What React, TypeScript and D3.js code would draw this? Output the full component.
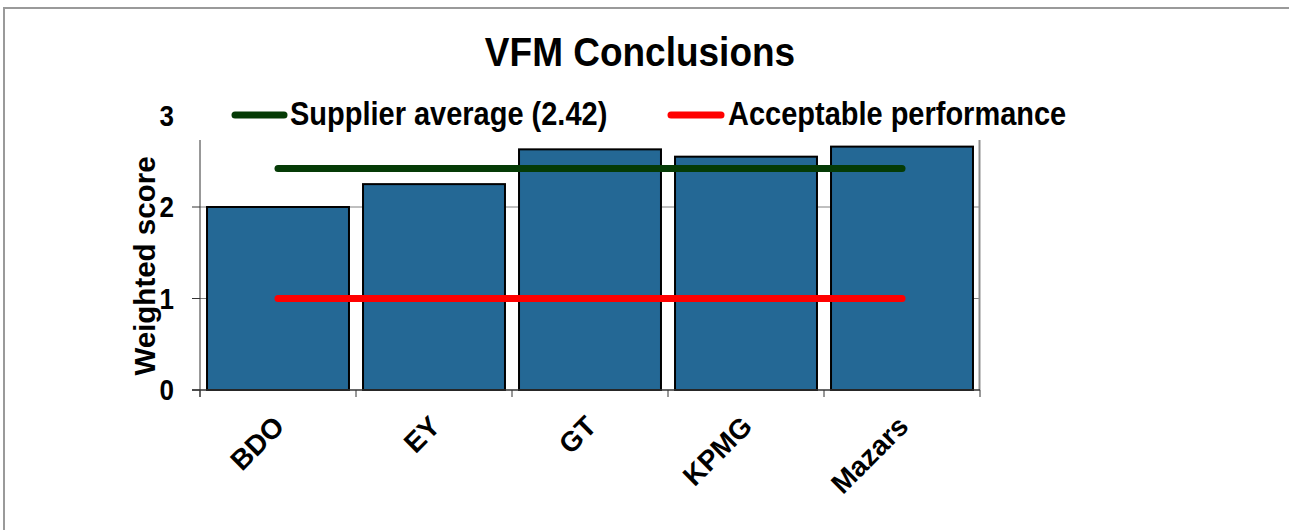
import React from "react";
import * as d3 from "d3";

const categories = ["BDO", "EY", "GT", "KPMG", "Mazars"];
const scores = [2.0, 2.25, 2.63, 2.55, 2.66];
const supplierAverage = [2.42, 2.42, 2.42, 2.42, 2.42];
const acceptable = [1, 1, 1, 1, 1];
const yTicks = [0, 1, 2, 3];
const legendLabels = ["Supplier average (2.42)", "Acceptable performance"];
const title = "VFM Conclusions";
const yTitle = "Weighted score";

const W = 1289;
const H = 530;
const FONT = "'Liberation Sans', Arial, Helvetica, sans-serif";
const BAR = "#246895";
const GREEN = "#053b06";
const RED = "#ff0000";
const SY = 1.12;

export default function App() {
  const x = d3.scaleBand<string>().domain(categories).range([200, 980]).paddingInner(0.09).paddingOuter(0.045);
  const y = d3.scaleLinear().domain([0, 3]).range([390, 115.5]);
  const step = x.step();
  const cx = (c: string) => (x(c) as number) + x.bandwidth() / 2;
  const line = d3
    .line<number>()
    .x((_, i) => cx(categories[i]))
    .y((d) => y(d));
  const boundaries = d3.range(categories.length + 1).map((i) => 200 + i * step);
  const plotTop = 140;

  return (
    <svg width={W} height={H} style={{ position: "absolute", left: 0, top: 0, background: "#fff" }} fontFamily={FONT}>
      <rect x={0} y={0} width={W} height={H} fill="#fff" />
      {/* outer frame */}
      <rect x={4} y={8} width={W + 20} height={H + 20} fill="none" stroke="#9a9a9a" strokeWidth={2} />

      {/* title */}
      <text transform={`translate(640,66) scale(1,${SY})`} textAnchor="middle" fontSize={37} fontWeight="bold" fill="#000">
        {title}
      </text>

      {/* gridlines */}
      {yTicks
        .filter((t) => t > 0 && y(t) > plotTop)
        .map((t) => (
          <line key={"g" + t} x1={200} x2={980} y1={y(t)} y2={y(t)} stroke="#808080" strokeWidth={1} />
        ))}

      {/* right border of plot */}
      <line x1={979.5} x2={979.5} y1={plotTop} y2={390} stroke="#8c8c8c" strokeWidth={2} />

      {/* bars */}
      {categories.map((c, i) => (
        <rect
          key={c}
          x={x(c) as number}
          y={y(scores[i])}
          width={x.bandwidth()}
          height={y(0) - y(scores[i])}
          fill={BAR}
          stroke="#000"
          strokeWidth={2}
        />
      ))}

      {/* axes */}
      <line x1={200} x2={200} y1={plotTop} y2={397} stroke="#333" strokeWidth={1} />
      <line x1={192} x2={980} y1={390} y2={390} stroke="#333" strokeWidth={1.5} />
      {yTicks
        .filter((t) => y(t) > plotTop)
        .map((t) => (
          <line key={"yt" + t} x1={192} x2={200} y1={y(t)} y2={y(t)} stroke="#333" strokeWidth={1} />
        ))}
      {boundaries.map((b, i) => (
        <line key={"xt" + i} x1={b} x2={b} y1={390} y2={397} stroke="#333" strokeWidth={1} />
      ))}

      {/* y tick labels */}
      {yTicks.map((t) => (
        <text
          key={"yl" + t}
          transform={`translate(174,${y(t) + 10}) scale(1,${SY})`}
          textAnchor="end"
          fontSize={26}
          fontWeight="bold"
          fill="#000"
        >
          {t}
        </text>
      ))}

      {/* y title */}
      <text
        transform={`translate(155,266) rotate(-90)`}
        textAnchor="middle"
        fontSize={29.5}
        fontWeight="bold"
        fill="#000"
      >
        {yTitle}
      </text>

      {/* series lines */}
      <path d={line(acceptable) || ""} fill="none" stroke={RED} strokeWidth={7} strokeLinecap="round" />
      <path d={line(supplierAverage) || ""} fill="none" stroke={GREEN} strokeWidth={7} strokeLinecap="round" />

      {/* x labels */}
      {categories.map((c) => (
        <text
          key={"xl" + c}
          transform={`translate(${cx(c) + 8},428) rotate(-45)`}
          textAnchor="end"
          fontSize={28}
          fontWeight="bold"
          fill="#000"
        >
          {c}
        </text>
      ))}

      {/* legend */}
      <line x1={235} x2={284} y1={115} y2={115} stroke={GREEN} strokeWidth={7} strokeLinecap="round" />
      <text transform={`translate(290,125) scale(1,${SY})`} fontSize={29} fontWeight="bold" fill="#000">
        {legendLabels[0]}
      </text>
      <line x1={671} x2={721} y1={115} y2={115} stroke={RED} strokeWidth={7} strokeLinecap="round" />
      <text transform={`translate(728,125) scale(1,${SY})`} fontSize={29} fontWeight="bold" fill="#000">
        {legendLabels[1]}
      </text>
    </svg>
  );
}
